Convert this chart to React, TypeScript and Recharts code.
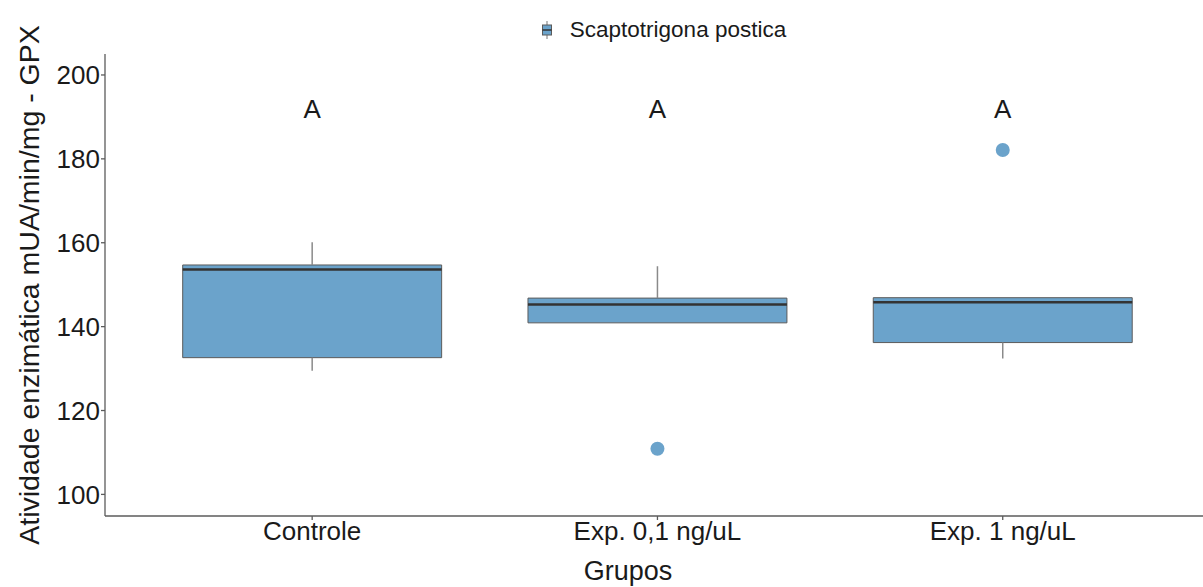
import React from "react";
import {
    ComposedChart,
    Scatter,
    XAxis,
    YAxis,
    ReferenceArea,
    ReferenceLine,
    Legend,
} from "recharts";

// groups and box statistics
const categories = ["Controle", "Exp. 0,1 ng/uL", "Exp. 1 ng/uL"];
const q1 = [132.6, 140.9, 136.2];
const median = [153.6, 145.3, 145.8];
const q3 = [154.7, 146.8, 146.9];
const whiskerLow = [129.5, 140.9, 132.4];
const whiskerHigh = [160.1, 154.4, 146.9];
const outlierGroup = [2, 3];
const outlierValue = [110.9, 182.1];
const letters = ["A", "A", "A"];
const letterValue = 192;
const yTicks = [100, 120, 140, 160, 180, 200];
const seriesName = "Scaptotrigona postica";

const FILL = "#6BA3CB";
const OUTLINE = "#5b5b5b";
const FONT = "'Liberation Sans', Arial, sans-serif";

const outlierData = outlierGroup.map((g, i) => ({ x: g, y: outlierValue[i] }));
const letterData = letters.map((l, i) => ({ x: i + 1, y: letterValue, letter: l }));

const HALF = 0.375;

const LegendContent = () => (
    <div
        style={{
            height: 44,
            display: "flex",
            justifyContent: "center",
            alignItems: "center",
            paddingLeft: 124,
            paddingBottom: 2,
            fontFamily: FONT,
            fontSize: 22.5,
            color: "#1a1a1a",
        }}
    >
        <svg width={12} height={18} style={{ marginRight: 17 }}>
            <line x1={6} y1={0} x2={6} y2={18} stroke="#777" strokeWidth={1} />
            <rect x={1.5} y={4} width={9} height={10} fill={FILL} stroke={OUTLINE} strokeWidth={1} />
            <line x1={1.5} y1={9} x2={10.5} y2={9} stroke="#333" strokeWidth={1.5} />
        </svg>
        <span>{seriesName}</span>
    </div>
);

const YLabel = ({ viewBox }: any) => {
    const cx = 29;
    const cy = viewBox.y + viewBox.height / 2;
    return (
        <text
            x={cx}
            y={cy}
            transform={`rotate(-90, ${cx}, ${cy})`}
            textAnchor="middle"
            dominantBaseline="central"
            fontFamily={FONT}
            fontSize={28.5}
            fill="#1a1a1a"
        >
            Atividade enzimática mUA/min/mg - GPX
        </text>
    );
};

const App = () => (
    <div style={{ position: "absolute", left: 0, top: 0, width: 1203, height: 587, background: "#fff" }}>
        <ComposedChart
            width={1203}
            height={587}
            margin={{ top: 8, right: 0, left: 0, bottom: 0 }}
        >
            <Legend verticalAlign="top" align="center" content={<LegendContent />} />
            <XAxis
                type="number"
                dataKey="x"
                domain={[0.4, 3.58]}
                ticks={[1, 2, 3]}
                allowDataOverflow
                tickFormatter={(v: number) => categories[v - 1]}
                height={71}
                tickSize={4}
                tickMargin={2}
                stroke={OUTLINE}
                strokeWidth={1.3}
                tick={{ fill: "#1a1a1a", fontSize: 26, fontFamily: FONT }}
                label={{
                    value: "Grupos",
                    position: "insideBottom",
                    offset: 7,
                    dx: -26,
                    fill: "#1a1a1a",
                    fontSize: 27,
                    fontFamily: FONT,
                }}
            />
            <YAxis
                type="number"
                dataKey="y"
                domain={[94.85, 205]}
                ticks={yTicks}
                allowDataOverflow
                width={105}
                tickSize={4}
                tickMargin={1}
                stroke={OUTLINE}
                strokeWidth={1.3}
                tick={{ fill: "#1a1a1a", fontSize: 26, fontFamily: FONT }}
                label={<YLabel />}
            />
            {categories.map((c, i) => (
                <ReferenceLine
                    key={`wh-${c}`}
                    segment={[
                        { x: i + 1, y: q3[i] },
                        { x: i + 1, y: whiskerHigh[i] },
                    ]}
                    stroke="#8a8a8a"
                    strokeWidth={1.5}
                />
            ))}
            {categories.map((c, i) => (
                <ReferenceLine
                    key={`wl-${c}`}
                    segment={[
                        { x: i + 1, y: whiskerLow[i] },
                        { x: i + 1, y: q1[i] },
                    ]}
                    stroke="#8a8a8a"
                    strokeWidth={1.5}
                />
            ))}
            {categories.map((c, i) => (
                <ReferenceArea
                    key={`box-${c}`}
                    x1={i + 1 - HALF}
                    x2={i + 1 + HALF}
                    y1={q1[i]}
                    y2={q3[i]}
                    fill={FILL}
                    fillOpacity={1}
                    stroke={OUTLINE}
                    strokeWidth={1}
                />
            ))}
            {categories.map((c, i) => (
                <ReferenceLine
                    key={`med-${c}`}
                    segment={[
                        { x: i + 1 - HALF, y: median[i] },
                        { x: i + 1 + HALF, y: median[i] },
                    ]}
                    stroke="#333"
                    strokeWidth={2.5}
                />
            ))}
            <Scatter
                name={seriesName}
                data={outlierData}
                isAnimationActive={false}
                fill={FILL}
                shape={(p: any) => <circle cx={p.cx} cy={p.cy} r={7} fill={FILL} />}
            />
            <Scatter
                data={letterData}
                isAnimationActive={false}
                legendType="none"
                shape={(p: any) => (
                    <text
                        x={p.cx}
                        y={p.cy}
                        textAnchor="middle"
                        dominantBaseline="central"
                        fontFamily={FONT}
                        fontSize={26}
                        fill="#1a1a1a"
                    >
                        {p.payload.letter}
                    </text>
                )}
            />
        </ComposedChart>
    </div>
);

export default App;
